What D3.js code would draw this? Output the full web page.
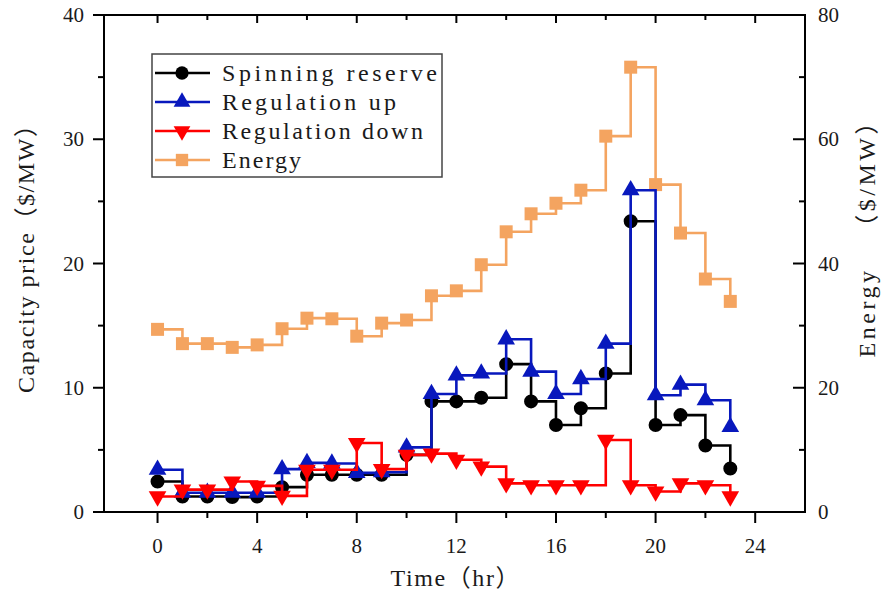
<!DOCTYPE html>
<html>
<head>
<meta charset="utf-8">
<script src="https://cdn.jsdelivr.net/npm/d3@7"></script>
<style>
  html, body { margin: 0; padding: 0; background: #fff; }
  svg { display: block; }
  .lbl { font-family: "Liberation Serif", "Noto Sans CJK SC", serif; fill: #1a1a1a; white-space: pre; }
  .num { font-family: "Liberation Serif", serif; fill: #1a1a1a; font-size: 21px; }
</style>
</head>
<body>
<svg id="chart" width="887" height="598"></svg>
<script>
const hours = d3.range(0, 24);
const spinning = [2.45, 1.25, 1.25, 1.2, 1.25, 2.0, 3.0, 3.0, 3.0, 3.0, 4.6, 8.9, 8.9, 9.2, 11.9,
  8.9, 7.0, 8.35, 11.15, 23.4, 7.0, 7.8, 5.35, 3.5];
const regUp = [3.4, 1.55, 1.55, 1.55, 1.55, 3.45, 3.95, 3.9, 3.15, 3.2, 5.2, 9.5, 11.0, 11.15, 13.9,
  11.3, 9.5, 10.7, 13.55, 25.9, 9.4, 10.25, 9.0, 6.85];
const regDown = [1.25, 1.8, 1.8, 2.45, 2.1, 1.3, 3.4, 3.4, 5.55, 3.45, 4.6, 4.7, 4.2, 3.65, 2.3,
  2.15, 2.15, 2.15, 5.8, 2.15, 1.65, 2.3, 2.15, 1.25];
const energy = [29.4, 27.1, 27.1, 26.5, 26.9, 29.5, 31.2, 31.1, 28.3, 30.4, 30.9, 34.8, 35.6, 39.8, 45.1,
  48.0, 49.7, 51.8, 60.5, 71.6, 52.7, 44.9, 37.5, 33.9];

const xTicks = [0, 4, 8, 12, 16, 20, 24];
const leftTicks = [0, 10, 20, 30, 40];
const rightTicks = [0, 20, 40, 60, 80];
const seriesNames = ["Spinning reserve", "Regulation up", "Regulation down", "Energy"];

(function () {
  const svg = d3.select("#chart");
  const left = 104, right = 805, plotTop = 15, bottom = 512;

  const x = d3.scaleLinear().domain([-2.15, 26]).range([left, right]);
  const yL = d3.scaleLinear().domain([0, 40]).range([bottom, plotTop]);
  const yR = d3.scaleLinear().domain([0, 80]).range([bottom, plotTop]);

  // frame
  svg.append("rect")
    .attr("x", left).attr("y", plotTop)
    .attr("width", right - left).attr("height", bottom - plotTop)
    .attr("fill", "none").attr("stroke", "#000").attr("stroke-width", 2);

  // bottom axis (outward)
  const gx = svg.append("g").attr("transform", `translate(0,${bottom})`);
  gx.selectAll("line.minor").data(d3.range(2, 26, 4)).join("line")
    .attr("x1", d => x(d)).attr("x2", d => x(d)).attr("y1", 0).attr("y2", 6)
    .attr("stroke", "#000").attr("stroke-width", 2);
  gx.selectAll("line.major").data(xTicks).join("line")
    .attr("x1", d => x(d)).attr("x2", d => x(d)).attr("y1", 0).attr("y2", 11)
    .attr("stroke", "#000").attr("stroke-width", 2);
  gx.selectAll("text").data(xTicks).join("text")
    .attr("class", "num").attr("x", d => x(d)).attr("y", 41)
    .attr("text-anchor", "middle").text(d => d);

  // top ticks (inward)
  svg.append("g").selectAll("line").data(d3.range(0, 26, 2)).join("line")
    .attr("x1", d => x(d)).attr("x2", d => x(d))
    .attr("y1", plotTop).attr("y2", d => plotTop + (d % 4 === 0 ? 8 : 5))
    .attr("stroke", "#000").attr("stroke-width", 2);

  // left axis (outward)
  const gl = svg.append("g");
  gl.selectAll("line.minor").data([5, 15, 25, 35]).join("line")
    .attr("x1", left - 6).attr("x2", left).attr("y1", d => yL(d)).attr("y2", d => yL(d))
    .attr("stroke", "#000").attr("stroke-width", 2);
  gl.selectAll("line.major").data(leftTicks).join("line")
    .attr("x1", left - 11).attr("x2", left).attr("y1", d => yL(d)).attr("y2", d => yL(d))
    .attr("stroke", "#000").attr("stroke-width", 2);
  gl.selectAll("text").data(leftTicks).join("text")
    .attr("class", "num").attr("x", left - 20).attr("y", d => yL(d) + 7)
    .attr("text-anchor", "end").text(d => d);

  // right axis (inward)
  const gr = svg.append("g");
  gr.selectAll("line.minor").data([10, 30, 50, 70]).join("line")
    .attr("x1", right - 6).attr("x2", right).attr("y1", d => yR(d)).attr("y2", d => yR(d))
    .attr("stroke", "#000").attr("stroke-width", 2);
  gr.selectAll("line.major").data(rightTicks).join("line")
    .attr("x1", right - 12).attr("x2", right).attr("y1", d => yR(d)).attr("y2", d => yR(d))
    .attr("stroke", "#000").attr("stroke-width", 2);
  gr.selectAll("text").data(rightTicks).join("text")
    .attr("class", "num").attr("x", right + 13).attr("y", d => yR(d) + 7)
    .attr("text-anchor", "start").text(d => d);

  // axis titles
  svg.append("text").attr("class", "lbl").attr("font-size", 24)
    .attr("x", 455).attr("y", 586).attr("text-anchor", "middle")
    .attr("textLength", 129).attr("lengthAdjust", "spacing")
    .text("Time（hr）");
  svg.append("text").attr("class", "lbl").attr("font-size", 24)
    .attr("transform", "translate(34,253) rotate(-90)").attr("text-anchor", "middle")
    .attr("textLength", 280).attr("lengthAdjust", "spacing")
    .text("Capacity price（$/MW）");
  svg.append("text").attr("class", "lbl").attr("font-size", 24)
    .attr("transform", "translate(875,234) rotate(-90)").attr("text-anchor", "middle")
    .attr("textLength", 247).attr("lengthAdjust", "spacing")
    .text("Energy   （$/MW）");

  // series, drawn back to front
  const series = [
    { name: seriesNames[3], values: energy, y: yR, color: "#f4a460", symbol: d3.symbolSquare, size: 169, rot: 0 },
    { name: seriesNames[0], values: spinning, y: yL, color: "#000000", symbol: d3.symbolCircle, size: 154, rot: 0 },
    { name: seriesNames[1], values: regUp, y: yL, color: "#0818bd", symbol: d3.symbolTriangle, size: 135, rot: 0 },
    { name: seriesNames[2], values: regDown, y: yL, color: "#ff0000", symbol: d3.symbolTriangle, size: 135, rot: 180 }
  ];

  series.forEach(s => {
    const g = svg.append("g");
    const line = d3.line()
      .x((d, i) => x(hours[i]))
      .y(d => s.y(d))
      .curve(d3.curveStepAfter);
    g.append("path").datum(s.values)
      .attr("d", line).attr("fill", "none")
      .attr("stroke", s.color).attr("stroke-width", 2.6);
    g.selectAll("path.m").data(s.values).join("path")
      .attr("class", "m")
      .attr("d", d3.symbol(s.symbol, s.size))
      .attr("transform", (d, i) => `translate(${x(hours[i])},${s.y(d)}) rotate(${s.rot})`)
      .attr("fill", s.color);
  });

  // legend
  const legend = svg.append("g");
  legend.append("rect")
    .attr("x", 152).attr("y", 54).attr("width", 290).attr("height", 123)
    .attr("fill", "#fff").attr("stroke", "#444").attr("stroke-width", 1.5);
  const legendOrder = [series[1], series[2], series[3], series[0]];
  const legendWidths = [215, 174, 201, 79];
  legendOrder.forEach((s, i) => {
    const cy = 73 + i * 29;
    legend.append("line").attr("x1", 155).attr("x2", 210).attr("y1", cy).attr("y2", cy)
      .attr("stroke", s.color).attr("stroke-width", 2.6);
    legend.append("path").attr("d", d3.symbol(s.symbol, s.size * 0.9))
      .attr("transform", `translate(182,${cy}) rotate(${s.rot})`).attr("fill", s.color);
    legend.append("text").attr("class", "lbl").attr("font-size", 24)
      .attr("x", 222).attr("y", cy + 8)
      .attr("textLength", legendWidths[i]).attr("lengthAdjust", "spacing")
      .text(s.name);
  });
})();
</script>
</body>
</html>
